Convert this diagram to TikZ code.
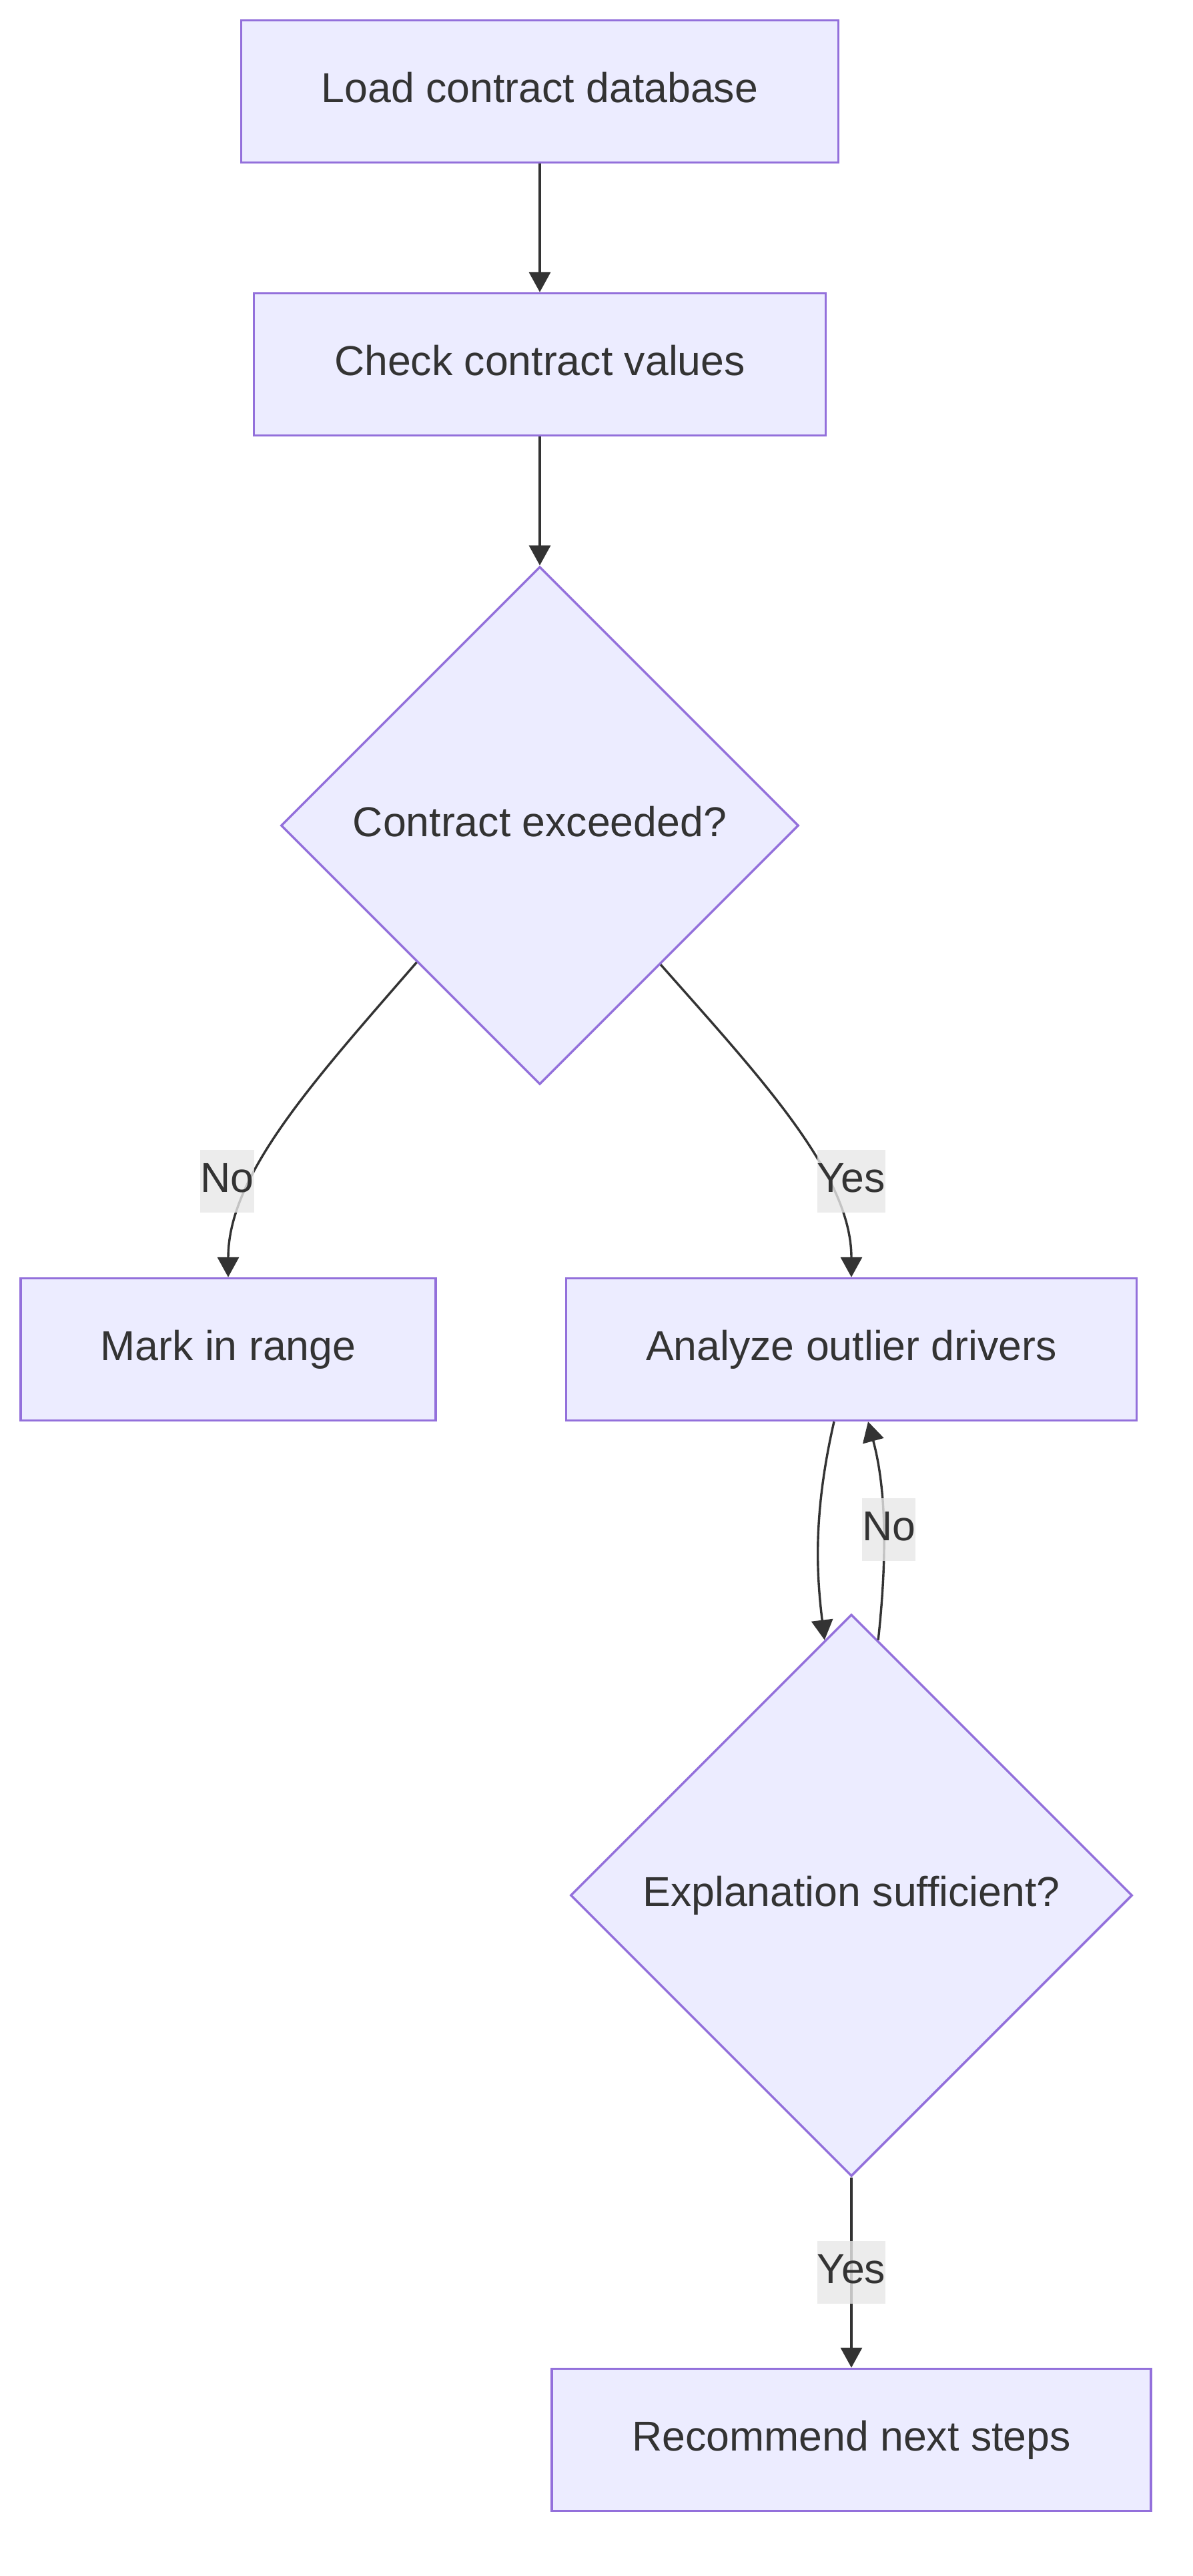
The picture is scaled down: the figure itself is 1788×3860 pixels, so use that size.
\documentclass[tikz,border=0pt]{standalone}
\usepackage{fontspec}
\setmainfont{Liberation Sans}
\usetikzlibrary{shapes.geometric,arrows.meta,calc}
\definecolor{nodefill}{HTML}{ECECFF}
\definecolor{nodeline}{HTML}{9370DB}
\definecolor{ink}{HTML}{333333}
\definecolor{lblbg}{HTML}{E8E8E8}
\begin{document}
\begin{tikzpicture}[x=0.5pt,y=-0.5pt,
  txt/.style={text=ink,font=\fontsize{31.3pt}{37.5pt}\selectfont,text height=22.5pt,text depth=5.6pt},
  box/.style={txt,draw=nodeline,fill=nodefill,line width=1.7pt,inner sep=0pt,minimum height=106.5pt},
  dia/.style={txt,diamond,aspect=1,draw=nodeline,fill=nodefill,line width=1.7pt,inner sep=0pt},
  edge/.style={draw=ink,line width=1.7pt,-{Triangle[length=15pt,width=16pt]}},
  lbl/.style={txt,fill=lblbg,fill opacity=0.8,text opacity=1,inner xsep=0pt,inner ysep=0pt,minimum height=47pt}]
\fill[white,use as bounding box] (0,0) rectangle (1788,3860);

\node[box,minimum width=447.5pt] (b1) at (809,137) {Load contract database};
\node[box,minimum width=428.5pt] (b2) at (809,546) {Check contract values};
\node[dia,minimum width=388pt,minimum height=388pt] (d1) at (809,1237) {Contract exceeded?};
\node[box,minimum width=311pt] (mark) at (342,2022) {Mark in range};
\node[box,minimum width=427.5pt] (an) at (1276,2022) {Analyze outlier drivers};
\node[dia,minimum width=421pt,minimum height=421pt] (d2) at (1276,2840) {Explanation sufficient?};
\node[box,minimum width=449pt] (rec) at (1276,3656) {Recommend next steps};

\draw[edge] (b1) -- (b2);
\draw[edge] (b2) -- (d1);
\draw[edge] (d1.228.45) .. controls (470,1620) and (342,1760) .. (mark.north);
\draw[edge] (d1.311.2) .. controls (1140,1615) and (1276,1760) .. (an.north);
\draw[edge] ($(an.south)+(-26,0)$) .. controls (1218,2270) and (1224,2360) .. (d2.96.5);
\draw[edge] (d2.84.3) .. controls (1330,2330) and (1328,2230) .. ($(an.south)+(25,0)$);
\draw[edge] (d2) -- (rec);

\node[lbl] (l1) at (340.5,1770) {No};
\node[lbl] (l2) at (1275.6,1770) {Yes};
\node[lbl] (l3) at (1332,2292) {No};
\node[lbl] (l4) at (1276,3405) {Yes};
\end{tikzpicture}
\end{document}
